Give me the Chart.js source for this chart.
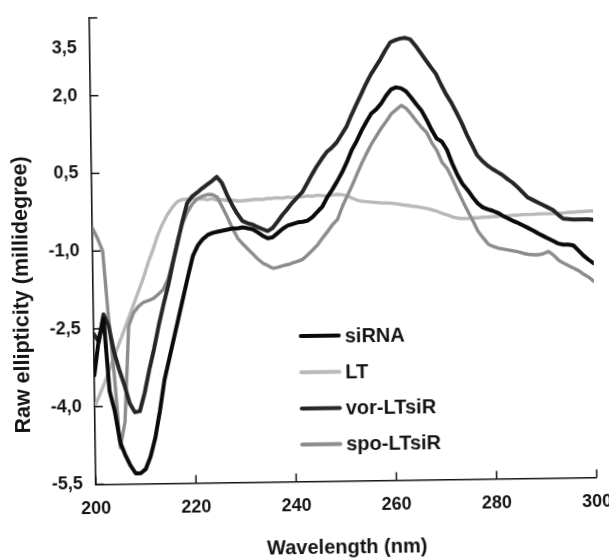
<!DOCTYPE html>
<html><head><meta charset="utf-8">
<script src="https://cdn.jsdelivr.net/npm/chart.js@4.4.1/dist/chart.umd.min.js"></script>
<style>
html,body{margin:0;padding:0;background:#fff;overflow:hidden;}
#wrap{width:609px;height:560px;transform:rotate(-0.8deg);transform-origin:50% 50%;background:#fff;}
</style></head><body><div id="wrap"><canvas id="c" width="609" height="560"></canvas></div>
<script>
const wavelengths = [200,201,202,203,204,205,206,207,208,209,210,211,212,213,214,215,216,217,218,219,220,221,222,223,224,225,226,227,228,229,230,231,232,233,234,235,236,237,238,239,240,241,242,243,244,245,246,247,248,249,250,251,252,253,254,255,256,257,258,259,260,261,262,263,264,265,266,267,268,269,270,271,272,273,274,275,276,277,278,279,280,281,282,283,284,285,286,287,288,289,290,291,292,293,294,295,296,297,298,299,300];

const siRNA = [-3.4,-2.7,-2.3,-3.7,-4.1,-4.7,-4.95,-5.15,-5.3,-5.3,-5.22,-4.98,-4.62,-4.1,-3.5,-3.1,-2.7,-2.3,-1.9,-1.5,-1.12,-0.92,-0.8,-0.72,-0.68,-0.66,-0.64,-0.62,-0.6,-0.6,-0.58,-0.6,-0.62,-0.68,-0.75,-0.8,-0.78,-0.7,-0.62,-0.56,-0.53,-0.5,-0.49,-0.47,-0.4,-0.3,-0.2,-0.02,0.12,0.28,0.45,0.65,0.88,1.05,1.25,1.42,1.58,1.66,1.77,1.92,2.04,2.08,2.06,2.0,1.88,1.75,1.63,1.45,1.25,1.08,1.02,0.86,0.6,0.38,0.2,0.08,-0.06,-0.18,-0.26,-0.3,-0.33,-0.37,-0.43,-0.48,-0.53,-0.57,-0.62,-0.67,-0.72,-0.78,-0.83,-0.88,-0.93,-0.98,-1.0,-1.0,-1.02,-1.12,-1.22,-1.3,-1.37];

const LT = [-4.0,-3.78,-3.55,-3.3,-3.05,-2.8,-2.55,-2.3,-2.05,-1.8,-1.55,-1.25,-1.0,-0.72,-0.5,-0.32,-0.18,-0.07,-0.03,-0.02,-0.01,-0.03,-0.02,-0.04,-0.02,-0.05,-0.04,-0.06,-0.05,-0.07,-0.07,-0.06,-0.05,-0.04,-0.05,-0.03,-0.03,-0.02,-0.03,-0.01,-0.02,0.0,-0.01,0.01,0.0,0.02,0.01,0.0,0.02,0.03,0.02,0.0,-0.05,-0.09,-0.11,-0.12,-0.13,-0.14,-0.15,-0.15,-0.16,-0.17,-0.19,-0.2,-0.22,-0.23,-0.25,-0.27,-0.3,-0.33,-0.37,-0.4,-0.44,-0.46,-0.47,-0.47,-0.46,-0.46,-0.45,-0.45,-0.44,-0.44,-0.43,-0.43,-0.42,-0.42,-0.41,-0.41,-0.41,-0.4,-0.4,-0.4,-0.4,-0.39,-0.39,-0.38,-0.38,-0.37,-0.37,-0.36,-0.36];

const vorLTsiR = [-2.6,-2.75,-2.22,-2.45,-2.95,-3.3,-3.6,-3.95,-4.12,-4.1,-3.75,-3.3,-2.9,-2.45,-2.05,-1.68,-1.25,-0.85,-0.45,-0.1,0.03,0.1,0.18,0.25,0.32,0.4,0.28,0.05,-0.15,-0.32,-0.46,-0.5,-0.53,-0.58,-0.62,-0.66,-0.6,-0.48,-0.35,-0.24,-0.12,-0.02,0.08,0.25,0.42,0.58,0.72,0.85,0.93,1.03,1.18,1.33,1.55,1.75,1.95,2.15,2.33,2.48,2.63,2.8,2.95,2.99,3.02,3.03,3.0,2.88,2.74,2.6,2.46,2.33,2.12,1.93,1.77,1.58,1.38,1.15,0.95,0.75,0.64,0.55,0.48,0.42,0.36,0.28,0.21,0.12,0.02,-0.08,-0.13,-0.18,-0.23,-0.28,-0.33,-0.42,-0.5,-0.51,-0.52,-0.52,-0.52,-0.52,-0.53];

const spoLTsiR = [-0.55,-0.75,-1.0,-2.3,-3.4,-4.8,-4.3,-2.45,-2.2,-2.08,-2.0,-1.97,-1.93,-1.85,-1.76,-1.55,-1.2,-0.8,-0.5,-0.28,-0.12,-0.02,0.03,0.06,0.06,0.01,-0.18,-0.38,-0.6,-0.79,-0.9,-1.0,-1.1,-1.2,-1.28,-1.33,-1.38,-1.36,-1.33,-1.31,-1.28,-1.25,-1.21,-1.12,-1.03,-0.93,-0.8,-0.68,-0.55,-0.45,-0.2,0.0,0.2,0.42,0.63,0.82,1.0,1.15,1.3,1.43,1.57,1.65,1.73,1.67,1.55,1.42,1.3,1.2,1.0,0.85,0.62,0.5,0.3,0.08,-0.13,-0.33,-0.52,-0.72,-0.85,-0.97,-1.02,-1.05,-1.07,-1.09,-1.11,-1.13,-1.16,-1.18,-1.19,-1.19,-1.17,-1.13,-1.2,-1.3,-1.36,-1.41,-1.46,-1.51,-1.58,-1.64,-1.72];

const seriesNames = ['siRNA','LT','vor-LTsiR','spo-LTsiR'];
const xTicks = [200,220,240,260,280,300];
const yTicks = [-5.5,-4.0,-2.5,-1.0,0.5,2.0,3.5];
const xTitle = 'Wavelength (nm)';
const yTitle = 'Raw ellipticity (millidegree)';

const FONT = "'Liberation Sans', Arial, sans-serif";
const INK = '#141414';
const fmt = v => v.toFixed(1).replace('.', ',');

const seriesValues = [siRNA, LT, vorLTsiR, spoLTsiR];
const styles = [
  {color:'#0a0a0a', width:4},
  {color:'#b9b9b9', width:3.4},
  {color:'#262626', width:4},
  {color:'#8c8c8c', width:3.4}
];

const datasets = seriesNames.map((name, k) => ({
  label: name,
  data: seriesValues[k].map((v, i) => ({x: wavelengths[i], y: v})),
  borderColor: styles[k].color,
  borderWidth: styles[k].width,
  pointRadius: 0,
  tension: 0,
  fill: false,
  borderJoinStyle: 'round',
  borderCapStyle: 'round'
}));
const order = [1, 3, 2, 0];
order.forEach((k, i) => { datasets[k].order = 4 - i; });

const decor = {
  id: 'decor',
  afterDraw(chart) {
    const ctx = chart.ctx;
    const xs = chart.scales.x, ys = chart.scales.y;
    const area = chart.chartArea;
    ctx.save();
    ctx.strokeStyle = INK;
    ctx.lineWidth = 1.5;
    ys.ticks.forEach(t => {
      const py = ys.getPixelForValue(t.value);
      ctx.beginPath(); ctx.moveTo(area.left, py); ctx.lineTo(area.left + 8, py); ctx.stroke();
    });
    xs.ticks.forEach(t => {
      const px = xs.getPixelForValue(t.value);
      ctx.beginPath(); ctx.moveTo(px, area.bottom); ctx.lineTo(px, area.bottom - 8); ctx.stroke();
    });
    ctx.fillStyle = INK;
    ctx.font = 'bold 18px ' + FONT;
    ctx.textAlign = 'right';
    ctx.textBaseline = 'middle';
    ctx.fillText(fmt(yTicks[yTicks.length - 1]), area.left - 13, ys.getPixelForValue(2.93));
    ctx.save();
    ctx.translate(22, 291);
    ctx.rotate(-Math.PI / 2);
    ctx.textAlign = 'center';
    ctx.font = 'bold 21.5px ' + FONT;
    ctx.fillText(yTitle, 0, 0);
    ctx.restore();
    ctx.font = 'bold 20px ' + FONT;
    ctx.textAlign = 'left';
    chart.data.datasets.forEach((ds, i) => {
      const ly = 336 + i * 36.2;
      ctx.strokeStyle = ds.borderColor;
      ctx.lineWidth = 4;
      ctx.lineCap = 'round';
      ctx.beginPath(); ctx.moveTo(300, ly); ctx.lineTo(338, ly); ctx.stroke();
      ctx.fillStyle = INK;
      ctx.fillText(ds.label, 344, ly + 1);
    });
    ctx.restore();
  }
};

new Chart(document.getElementById('c'), {
  type: 'line',
  data: { datasets },
  options: {
    responsive: false,
    animation: false,
    devicePixelRatio: 1,
    layout: { padding: { left: 49, top: 15, right: 0, bottom: 0 } },
    plugins: { legend: { display: false }, tooltip: { enabled: false } },
    scales: {
      x: {
        type: 'linear', min: 200, max: 300,
        afterBuildTicks: s => { s.ticks = xTicks.map(v => ({value: v})); },
        grid: { display: false, drawTicks: true, tickLength: 14 },
        border: { display: true, color: INK, width: 1.6 },
        ticks: { padding: 0, color: INK, maxRotation: 0, autoSkip: false,
                 font: { family: FONT, size: 18, weight: 'bold' },
                 callback: v => String(v) },
        title: { display: true, text: xTitle, color: INK,
                 font: { family: FONT, size: 20, weight: 'bold' },
                 padding: { top: 19, bottom: 0 } }
      },
      y: {
        type: 'linear', min: -5.5, max: 3.5,
        afterBuildTicks: s => { s.ticks = yTicks.map(v => ({value: v})); },
        grid: { display: false, drawTicks: true, tickLength: 13 },
        border: { display: true, color: INK, width: 1.6 },
        ticks: { padding: 0, color: INK, autoSkip: false,
                 font: { family: FONT, size: 18, weight: 'bold' },
                 callback: v => (v === 3.5 ? '' : fmt(v)) }
      }
    }
  },
  plugins: [decor]
});
</script></body></html>
